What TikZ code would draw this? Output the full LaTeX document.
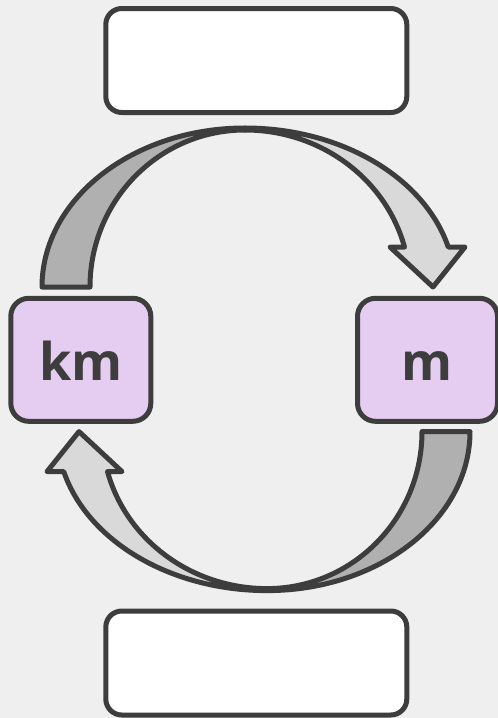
\documentclass[tikz,border=0pt]{standalone}
\usepackage{fontspec}
\setmainfont{Open Sans}
\definecolor{bgc}{HTML}{EFEFEF}
\definecolor{linec}{HTML}{3D3D3D}
\definecolor{purplec}{HTML}{E5CDF2}
\definecolor{darkfill}{HTML}{B0B0B0}
\definecolor{lightfill}{HTML}{D9D9D9}
\begin{document}
\begin{tikzpicture}[x=1pt,y=-1pt,
  outline/.style={draw=linec,line width=5pt,line join=round},
  whitebox/.style={outline,fill=white,rounded corners=16pt,rectangle,minimum width=301pt,minimum height=104pt,inner sep=0pt},
  unitbox/.style={outline,fill=purplec,rounded corners=18pt,rectangle,minimum width=140pt,minimum height=123pt,inner sep=0pt,
    text=linec,font=\fontsize{52}{52}\selectfont\bfseries,text height=42pt,text depth=0pt},
  darkpart/.style={outline,fill=darkfill},
  lightpart/.style={outline,fill=lightfill}]
\fill[bgc] (0,0) rectangle (498,718);
\useasboundingbox (0,0) rectangle (498,718);
% curved arrows (top one, then the same turned half a turn)
\foreach \rot in {0,180}{
\begin{scope}[rotate around={\rot:(256,359.3)}]
  \draw[darkpart] (42,287) arc[start angle=-180,end angle=-90,x radius=203,y radius=159]
     -- (245,130) arc[start angle=-90,end angle=-180,x radius=155,y radius=157] -- cycle;
  \draw[lightpart] (245,128) arc[start angle=-90,end angle=-14.57,x radius=210,y radius=159]
     -- (465,247) -- (433,287) -- (390,247) -- (404.5,247)
     arc[start angle=-14.76,end angle=-90,x radius=165,y radius=157] -- cycle;
\end{scope}}
\node[whitebox] (top) at (256.3,60.5) {};
\node[whitebox] (bottom) at (256.3,663) {};
\node[unitbox] (km) at (80.8,359.8) {km};
\node[unitbox] (m) at (427.5,359.8) {m};
\end{tikzpicture}
\end{document}
